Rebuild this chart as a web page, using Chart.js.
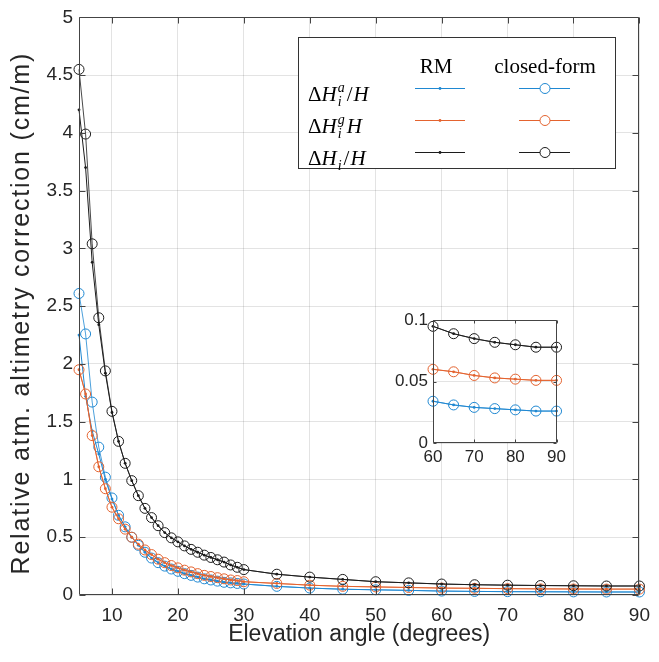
<!DOCTYPE html>
<html>
<head>
<meta charset="utf-8">
<script src="https://cdn.jsdelivr.net/npm/chart.js@4.4.1/dist/chart.umd.min.js"></script>
<style>
  html, body { margin: 0; padding: 0; background: #fff; }
  #wrap { position: relative; width: 659px; height: 662px; }
  #mainChart { position: absolute; left: 0; top: 0; }
  #insetChart { position: absolute; left: 390px; top: 305px; }
</style>
</head>
<body>
<div id="wrap">
  <canvas id="mainChart" width="659" height="662"></canvas>
  <canvas id="insetChart" width="180" height="165"></canvas>
</div>
<script>
// elevation angles (degrees)
const elevation = [5, 6, 7, 8, 9, 10, 11, 12, 13, 14, 15, 16, 17, 18, 19, 20,
  21, 22, 23, 24, 25, 26, 27, 28, 29, 30, 35, 40, 45, 50, 55, 60, 65, 70, 75, 80, 85, 90];

// closed-form values (cm/m)
const cfA = [2.61, 2.26, 1.67, 1.28, 1.02, 0.84, 0.69, 0.59, 0.50, 0.43, 0.37, 0.32, 0.28, 0.25,
  0.225, 0.205, 0.185, 0.17, 0.155, 0.14, 0.13, 0.12, 0.11, 0.105, 0.10, 0.095,
  0.075, 0.06, 0.05, 0.045, 0.04, 0.034, 0.031, 0.029, 0.028, 0.027, 0.026, 0.026];
const cfG = [1.95, 1.74, 1.38, 1.11, 0.92, 0.76, 0.66, 0.57, 0.50, 0.44, 0.39, 0.35, 0.31, 0.28,
  0.255, 0.235, 0.215, 0.20, 0.185, 0.17, 0.16, 0.15, 0.14, 0.13, 0.125, 0.115,
  0.10, 0.085, 0.075, 0.07, 0.065, 0.060, 0.058, 0.055, 0.053, 0.052, 0.051, 0.051];
const cfTot = [4.55, 3.99, 3.04, 2.40, 1.94, 1.59, 1.33, 1.14, 0.99, 0.86, 0.75, 0.67, 0.60, 0.54,
  0.495, 0.46, 0.425, 0.395, 0.37, 0.345, 0.325, 0.305, 0.285, 0.26, 0.24, 0.22,
  0.18, 0.155, 0.135, 0.115, 0.105, 0.095, 0.089, 0.085, 0.082, 0.080, 0.078, 0.078];

// RM values (cm/m)
const rmA = [2.25, 1.72, 1.42, 1.22, 1.00, 0.83, 0.69, 0.59, 0.50, 0.43, 0.37, 0.32, 0.28, 0.25,
  0.225, 0.205, 0.185, 0.17, 0.155, 0.14, 0.13, 0.12, 0.11, 0.105, 0.10, 0.095,
  0.075, 0.06, 0.05, 0.045, 0.04, 0.034, 0.031, 0.029, 0.028, 0.027, 0.026, 0.026];
const rmG = [1.95, 1.74, 1.38, 1.11, 0.92, 0.76, 0.66, 0.57, 0.50, 0.44, 0.39, 0.35, 0.31, 0.28,
  0.255, 0.235, 0.215, 0.20, 0.185, 0.17, 0.16, 0.15, 0.14, 0.13, 0.125, 0.115,
  0.10, 0.085, 0.075, 0.07, 0.065, 0.060, 0.058, 0.055, 0.053, 0.052, 0.051, 0.051];
const rmTot = [4.20, 3.70, 2.88, 2.34, 1.92, 1.58, 1.33, 1.14, 0.99, 0.86, 0.75, 0.67, 0.60, 0.54,
  0.495, 0.46, 0.425, 0.395, 0.37, 0.345, 0.325, 0.305, 0.285, 0.26, 0.24, 0.22,
  0.18, 0.155, 0.135, 0.115, 0.105, 0.095, 0.089, 0.085, 0.082, 0.080, 0.078, 0.078];

// ticks
const xTicks = [10, 20, 30, 40, 50, 60, 70, 80, 90];
const yTicks = [0, 0.5, 1, 1.5, 2, 2.5, 3, 3.5, 4, 4.5, 5];
const insetXTicks = [60, 70, 80, 90];
const insetYTicks = [0, 0.05, 0.1];

const yTitle = "Relative atm. altimetry correction (cm/m)";

const BLUE = "#1f88d2";
const ORANGE = "#e4632f";
const BLACK = "#1c1c1c";
const GRID = "rgba(0,0,0,0.11)";
const AXIS = "#444";
const TEXT = "#262626";

Chart.defaults.font.family = '"Liberation Sans", Arial, sans-serif';
Chart.defaults.color = TEXT;

function toPoints(ys, minX) {
  const out = [];
  elevation.forEach((x, i) => {
    if (x >= minX) out.push({ x: x, y: ys[i] });
  });
  return out;
}

function rmSet(ys, color, minX) {
  return {
    data: toPoints(ys, minX),
    borderColor: color,
    borderWidth: 1,
    pointRadius: 1.4,
    pointBorderWidth: 0,
    pointBackgroundColor: color,
    clip: false,
  };
}

function cfSet(ys, color, minX) {
  return {
    data: toPoints(ys, minX),
    borderColor: color + "cc",
    borderWidth: 1,
    pointRadius: 5,
    pointBorderWidth: 1,
    pointBorderColor: color,
    pointBackgroundColor: "rgba(0,0,0,0)",
    clip: false,
  };
}

function makeDatasets(minX) {
  return [
    rmSet(rmTot, BLACK, minX),
    cfSet(cfTot, BLACK, minX),
    rmSet(rmG, ORANGE, minX),
    cfSet(cfG, ORANGE, minX),
    rmSet(rmA, BLUE, minX),
    cfSet(cfA, BLUE, minX),
  ];
}

// box round the axes with small inward ticks, like matlab
const axesBox = {
  id: "axesBox",
  afterDatasetsDraw(chart, args, opts) {
    const { ctx, chartArea: a, scales } = chart;
    const L = Math.round(a.left) + 0.5, R = Math.round(a.right) - 0.5;
    const T = Math.round(a.top) + 0.5, B = Math.round(a.bottom) - 0.5;
    ctx.save();
    ctx.strokeStyle = AXIS;
    ctx.lineWidth = 1;
    ctx.beginPath();
    ctx.rect(L, T, R - L, B - T);
    scales.x.ticks.forEach((t) => {
      const x = Math.round(scales.x.getPixelForValue(t.value)) + 0.5;
      ctx.moveTo(x, B); ctx.lineTo(x, B - opts.len);
      ctx.moveTo(x, T); ctx.lineTo(x, T + opts.len);
    });
    scales.y.ticks.forEach((t) => {
      const y = Math.round(scales.y.getPixelForValue(t.value)) + 0.5;
      ctx.moveTo(L, y); ctx.lineTo(L + opts.len, y);
      ctx.moveTo(R, y); ctx.lineTo(R - opts.len, y);
    });
    ctx.stroke();
    ctx.restore();
  },
};

const whiteArea = {
  id: "whiteArea",
  beforeDraw(chart) {
    const { ctx, chartArea: a } = chart;
    ctx.save();
    ctx.fillStyle = "#fff";
    ctx.fillRect(a.left, a.top, a.right - a.left, a.bottom - a.top);
    ctx.restore();
  },
};

// y title drawn by hand so it can be spaced out along the axis
const spacedYTitle = {
  id: "spacedYTitle",
  afterDraw(chart) {
    const { ctx, chartArea: a } = chart;
    ctx.save();
    ctx.translate(22, (a.top + a.bottom) / 2 + 7);
    ctx.rotate(-Math.PI / 2);
    ctx.font = '25px "Liberation Sans", Arial, sans-serif';
    ctx.fillStyle = TEXT;
    ctx.textAlign = "center";
    ctx.textBaseline = "middle";
    if ("letterSpacing" in ctx) ctx.letterSpacing = "1.8px";
    ctx.fillText(yTitle, 0, 0);
    ctx.restore();
  },
};

// draw a little math label
function drawMath(ctx, x, y, parts) {
  const big = 21, small = 14;
  parts.forEach((p) => {
    if (p.stack) {
      ctx.font = 'italic ' + small + 'px "Liberation Serif", serif';
      let w = 0;
      if (p.sup) { ctx.fillText(p.sup, x, y - 9); w = Math.max(w, ctx.measureText(p.sup).width); }
      if (p.sub) { ctx.fillText(p.sub, x, y + 5); w = Math.max(w, ctx.measureText(p.sub).width); }
      x += w + 2;
    } else {
      ctx.font = (p.italic ? "italic " : "") + big + 'px "Liberation Serif", serif';
      ctx.fillText(p.t, x, y);
      x += ctx.measureText(p.t).width + (p.gap || 0);
    }
  });
}

const mathLegend = {
  id: "mathLegend",
  afterDraw(chart) {
    const ctx = chart.ctx;
    ctx.save();
    ctx.fillStyle = "#fff";
    ctx.fillRect(298.5, 37.5, 317, 131);
    ctx.strokeStyle = "#333";
    ctx.lineWidth = 1;
    ctx.strokeRect(298.5, 37.5, 317, 131);

    ctx.fillStyle = "#000";
    ctx.textBaseline = "alphabetic";
    ctx.textAlign = "center";
    ctx.font = '21px "Liberation Serif", serif';
    ctx.fillText("RM", 436, 73);
    ctx.fillText("closed-form", 545, 73);

    ctx.textAlign = "left";
    const rows = [
      { y: 88, color: BLUE, parts: [{ t: "Δ" }, { t: "H", italic: true, gap: 1 }, { stack: true, sup: "a", sub: "i" }, { t: "/", gap: 1 }, { t: "H", italic: true }] },
      { y: 120, color: ORANGE, parts: [{ t: "Δ" }, { t: "H", italic: true, gap: 1 }, { stack: true, sup: "g", sub: "i" }, { t: "H", italic: true }] },
      { y: 152, color: BLACK, parts: [{ t: "Δ" }, { t: "H", italic: true, gap: 1 }, { stack: true, sub: "i" }, { t: "/", gap: 1 }, { t: "H", italic: true }] },
    ];
    rows.forEach((r) => {
      ctx.fillStyle = "#000";
      drawMath(ctx, 308, r.y + 13, r.parts);
      ctx.strokeStyle = r.color;
      ctx.lineWidth = 1;
      ctx.beginPath();
      ctx.moveTo(415, r.y + 0.5); ctx.lineTo(465, r.y + 0.5);
      ctx.moveTo(519, r.y + 0.5); ctx.lineTo(570, r.y + 0.5);
      ctx.stroke();
      ctx.fillStyle = r.color;
      ctx.beginPath();
      ctx.arc(440, r.y + 0.5, 1.4, 0, Math.PI * 2);
      ctx.fill();
      ctx.fillStyle = "#fff";
      ctx.beginPath();
      ctx.arc(545, r.y + 0.5, 5, 0, Math.PI * 2);
      ctx.fill();
      ctx.stroke();
    });
    ctx.restore();
  },
};

new Chart(document.getElementById("mainChart"), {
  type: "line",
  data: { datasets: makeDatasets(0) },
  plugins: [axesBox, mathLegend, spacedYTitle],
  options: {
    responsive: false,
    animation: false,
    layout: { padding: { left: 0, right: 13, top: 17, bottom: 0 } },
    plugins: {
      legend: { display: false },
      tooltip: { enabled: false },
      axesBox: { len: 6 },
    },
    scales: {
      x: {
        type: "linear",
        min: 5,
        max: 90,
        afterBuildTicks: (s) => { s.ticks = xTicks.map((v) => ({ value: v })); },
        afterFit: (s) => { s.height = 67; },
        grid: { color: GRID, drawTicks: false },
        border: { display: false },
        ticks: { font: { size: 19 }, padding: 9, color: TEXT },
        title: {
          display: true,
          text: "Elevation angle (degrees)",
          font: { size: 23 },
          padding: { top: 0, bottom: 14 },
          color: TEXT,
        },
      },
      y: {
        type: "linear",
        min: 0,
        max: 5,
        afterBuildTicks: (s) => { s.ticks = yTicks.map((v) => ({ value: v })); },
        afterFit: (s) => { s.width = 79; },
        grid: { color: GRID, drawTicks: false },
        border: { display: false },
        ticks: { font: { size: 19 }, padding: 6, color: TEXT, callback: (v) => String(v) },
      },
    },
  },
});

new Chart(document.getElementById("insetChart"), {
  type: "line",
  data: { datasets: makeDatasets(60) },
  plugins: [whiteArea, axesBox],
  options: {
    responsive: false,
    animation: false,
    layout: { padding: { left: 0, right: 10, top: 10, bottom: 0 } },
    plugins: {
      legend: { display: false },
      tooltip: { enabled: false },
      axesBox: { len: 3 },
    },
    scales: {
      x: {
        type: "linear",
        min: 60,
        max: 90,
        afterBuildTicks: (s) => { s.ticks = insetXTicks.map((v) => ({ value: v })); },
        afterFit: (s) => { s.height = 27; },
        grid: { color: GRID, drawTicks: false },
        border: { display: false },
        ticks: { font: { size: 17 }, padding: 4, color: TEXT },
      },
      y: {
        type: "linear",
        min: 0,
        max: 0.1,
        afterBuildTicks: (s) => { s.ticks = insetYTicks.map((v) => ({ value: v })); },
        afterFit: (s) => { s.width = 43; },
        grid: { color: GRID, drawTicks: false },
        border: { display: false },
        ticks: { font: { size: 17 }, padding: 5, color: TEXT, callback: (v) => String(v) },
      },
    },
  },
});
</script>
</body>
</html>
